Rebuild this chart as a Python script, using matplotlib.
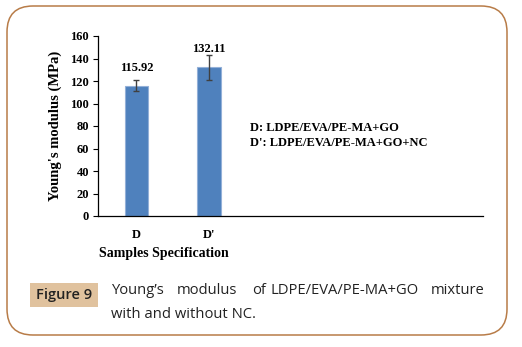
import matplotlib
matplotlib.use("Agg")
import matplotlib.pyplot as plt
from matplotlib.patches import FancyBboxPatch, Rectangle

# data
samples = ["D", "D'"]
modulus = [115.92, 132.11]
errors = [4.8, 11.0]
yticks = [0, 20, 40, 60, 80, 100, 120, 140, 160]
legend_lines = ["D: LDPE/EVA/PE-MA+GO", "D': LDPE/EVA/PE-MA+GO+NC"]
caption1 = ["Young\u2019s", "modulus", "of", "LDPE/EVA/PE-MA+GO", "mixture"]
caption2 = "with and without NC."

W, H = 522, 347
fig = plt.figure(figsize=(W / 100, H / 100), dpi=100)

def px(x, y):
    # pixel position (from top-left) -> figure fraction
    return x / W, 1 - y / H

serif = "Liberation Serif"
sans = "Open Sans"

# rounded frame
frame = FancyBboxPatch((0.07, 0.12), 5.00, 3.29,
                       boxstyle="round,pad=0,rounding_size=0.26",
                       transform=fig.dpi_scale_trans, fill=False,
                       edgecolor="#b87c48", linewidth=1.1)
fig.patches.append(frame)

ax = fig.add_axes([98 / W, 1 - 216 / H, 385 / W, 180 / H])
x = list(range(len(samples)))
ax.bar(x, modulus, width=0.32, color="#4f81bd", edgecolor="#93b0d8", linewidth=0.8, zorder=2)
ax.errorbar(x, modulus, yerr=errors, fmt="none", ecolor="#404040",
            elinewidth=1.0, capsize=2.5, capthick=1.0, zorder=3)
for xi, v in zip(x, modulus):
    ax.annotate(f"{v:.2f}", (xi, v), xytext=(0, 13), textcoords="offset points",
                ha="center", va="center", fontsize=9, fontweight="bold", family=serif)

ax.set_xlim(-0.53, 4.78)
ax.set_ylim(0, 160)
ax.set_yticks(yticks)
ax.set_xticks(x)
ax.set_xticklabels(samples)
ax.tick_params(axis="x", length=0, pad=9)
ax.tick_params(axis="y", length=3.5, width=0.8, pad=3)
for lab in ax.get_xticklabels() + ax.get_yticklabels():
    lab.set_fontsize(9)
    lab.set_fontweight("bold")
    lab.set_family(serif)
ax.spines["top"].set_visible(False)
ax.spines["right"].set_visible(False)
ax.spines["left"].set_linewidth(0.9)
ax.spines["bottom"].set_linewidth(0.9)
ax.set_ylabel("Young's modulus (MPa)", fontsize=10.5, fontweight="bold", family=serif, labelpad=6)

fig.text(*px(164, 254), "Samples Specification", ha="center", va="center",
         fontsize=10, fontweight="bold", family=serif)

for i, line in enumerate(legend_lines):
    fig.text(*px(250, 128 + 15 * i), line, ha="left", va="center",
             fontsize=9, fontweight="bold", family=serif)

# caption block
fig.patches.append(Rectangle(px(30, 307), 68 / W, 24 / H, transform=fig.transFigure,
                             facecolor="#e0c29e", edgecolor="none"))
fig.text(*px(64, 295), "Figure 9", ha="center", va="center", fontsize=10.5,
         fontweight="semibold", family=sans, color="#222222")
for word, wx in zip(caption1, [111, 177, 252, 270, 431]):
    fig.text(*px(wx, 290), word, ha="left", va="center", fontsize=10.6,
             family=sans, color="#222222")
fig.text(*px(111, 314), caption2, ha="left", va="center", fontsize=10.6,
         family=sans, color="#222222")

fig.savefig("out.png", dpi=100)
